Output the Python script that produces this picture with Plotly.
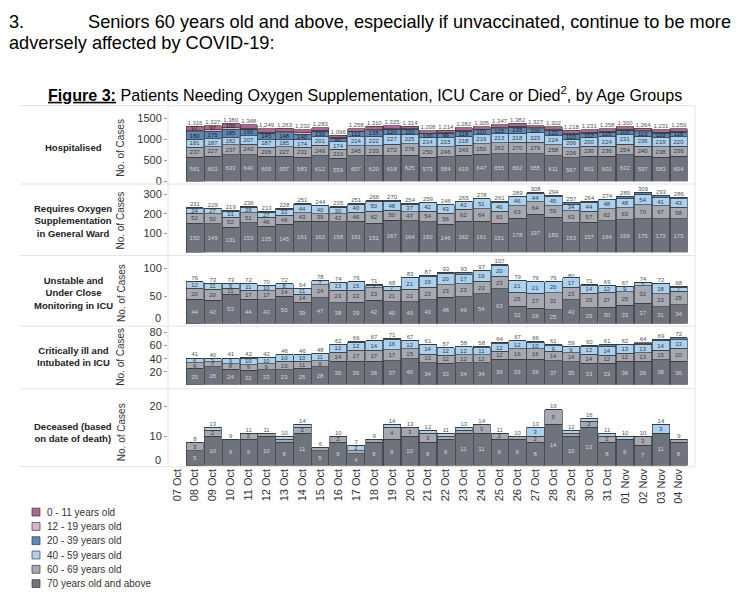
import plotly.graph_objects as go

# ---------------- data ----------------
dates = ["07 Oct", "08 Oct", "09 Oct", "10 Oct", "11 Oct", "12 Oct", "13 Oct", "14 Oct",
         "15 Oct", "16 Oct", "17 Oct", "18 Oct", "19 Oct", "20 Oct", "21 Oct", "22 Oct",
         "23 Oct", "24 Oct", "25 Oct", "26 Oct", "27 Oct", "28 Oct", "29 Oct", "30 Oct",
         "31 Oct", "01 Nov", "02 Nov", "03 Nov", "04 Nov"]

age_groups = ["70 years old and above", "60 - 69 years old", "40 - 59 years old",
              "20 - 39 years old", "12 - 19 years old", "0 - 11 years old"]

# Hospitalised
hosp_70 = [None, 581, 603, 633, 640, 605, 597, 583, 612, 559, 607, 620, 618, 625, 573, 584, 619, 647, 655, 662, 655, 611, 567, 601, 601, 632, 597, 583, 604]
hosp_60 = [None, 237, 227, 237, 243, 206, 227, 231, 249, 210, 245, 233, 272, 278, 250, 246, 243, 250, 262, 270, 279, 258, 236, 236, 236, 254, 240, 238, 236]
hosp_40 = [None, 181, 187, 182, 207, 187, 185, 174, 201, 174, 214, 222, 227, 225, 214, 215, 218, 219, 213, 218, 223, 224, 206, 200, 224, 231, 236, 219, 220]
hosp_20 = [None, 180, 175, 185, 150, 145, 148, 140, 130, 90, 112, 135, 120, 110, 100, 98, 118, 110, 125, 135, 100, 122, 120, 112, 115, 106, 110, 110, 116]
hosp_12 = [None, 40, 38, 43, 30, 28, 28, 27, 22, 15, 20, 26, 22, 18, 16, 16, 20, 18, 22, 24, 16, 20, 21, 20, 19, 18, 19, 20, 20]
hosp_0 = [None, 97, 97, 100, 78, 78, 78, 77, 69, 48, 60, 74, 66, 58, 55, 55, 64, 61, 70, 73, 54, 67, 68, 62, 63, 59, 62, 61, 63]
hosp_total = [None, 1316, 1327, 1380, 1348, 1249, 1263, 1232, 1283, 1096, 1258, 1310, 1325, 1314, 1208, 1214, 1282, 1305, 1347, 1382, 1327, 1302, 1218, 1231, 1258, 1300, 1264, 1231, 1259]

# Requires oxygen supplementation in general ward
oxy_70 = [None, 150, 149, 131, 153, 135, 145, 161, 162, 158, 161, 151, 167, 164, 160, 146, 162, 161, 151, 178, 197, 183, 153, 157, 164, 169, 175, 173, 175]
oxy_60 = [None, 52, 50, 52, 51, 46, 46, 43, 39, 42, 46, 62, 50, 47, 54, 56, 62, 64, 61, 63, 64, 59, 63, 57, 62, 63, 70, 67, 58]
oxy_40 = [None, 24, 27, 31, 29, 27, 32, 44, 40, 30, 40, 50, 48, 37, 42, 43, 41, 51, 46, 46, 44, 45, 34, 44, 48, 48, 54, 41, 43]
oxy_20 = [None, 4, 3, 4, 3, 4, 4, 3, 3, 4, 3, 3, 4, 5, 3, 1, 0, 2, 3, 2, 3, 6, 6, 5, 0, 8, 9, 11, 9]
oxy_12 = [None, 1, 0, 1, 0, 1, 1, 0, 0, 1, 1, 0, 1, 1, 0, 0, 0, 0, 0, 0, 0, 1, 1, 1, 0, 1, 1, 1, 1]
oxy_0 = [None, 0, 0, 0, 0, 0, 0, 0, 0, 0, 0, 0, 0, 0, 0, 0, 0, 0, 0, 0, 0, 0, 0, 0, 0, 0, 0, 0, 0]
oxy_total = [None, 231, 229, 219, 236, 213, 228, 251, 244, 235, 251, 266, 270, 254, 259, 246, 265, 278, 261, 289, 308, 294, 257, 264, 274, 289, 309, 293, 286]

# Unstable and under close monitoring in ICU
icu_70 = [None, 44, 42, 53, 44, 43, 50, 39, 47, 38, 39, 42, 40, 40, 43, 48, 49, 54, 63, 32, 28, 25, 43, 29, 30, 33, 37, 31, 34]
icu_60 = [None, 20, 20, 11, 17, 17, 14, 14, 24, 23, 22, 23, 21, 22, 23, 23, 23, 23, 23, 25, 27, 31, 23, 26, 27, 25, 32, 23, 25]
icu_40 = [None, 12, 11, 9, 11, 10, 8, 11, 7, 13, 15, 5, 7, 21, 19, 20, 17, 19, 20, 21, 21, 20, 17, 14, 12, 9, 5, 18, 7]
icu_20 = [None, 0, 0, 0, 0, 0, 0, 0, 0, 0, 0, 1, 0, 0, 2, 2, 3, 1, 1, 1, 0, 0, 0, 2, 0, 0, 0, 0, 2]
icu_12 = [None, 0, 0, 0, 0, 0, 0, 0, 0, 0, 0, 0, 0, 0, 0, 0, 1, 0, 0, 0, 0, 0, 0, 0, 0, 0, 0, 0, 0]
icu_0 = [None, 0, 0, 0, 0, 0, 0, 0, 0, 0, 0, 0, 0, 0, 0, 0, 0, 0, 0, 0, 0, 0, 0, 0, 0, 0, 0, 0, 0]
icu_total = [None, 76, 73, 73, 72, 70, 72, 64, 78, 74, 76, 71, 68, 83, 87, 93, 93, 97, 107, 79, 76, 76, 80, 71, 69, 67, 74, 72, 68]

# Critically ill and intubated in ICU
int_70 = [None, 25, 28, 24, 22, 23, 23, 25, 28, 36, 36, 36, 37, 40, 34, 33, 34, 34, 39, 39, 39, 37, 35, 33, 33, 36, 36, 38, 36]
int_60 = [None, 9, 7, 8, 9, 9, 13, 11, 9, 14, 17, 17, 17, 15, 13, 12, 12, 12, 12, 16, 16, 14, 14, 14, 12, 12, 13, 15, 20]
int_40 = [None, 6, 5, 9, 10, 10, 10, 10, 11, 12, 12, 14, 16, 12, 14, 12, 12, 11, 12, 12, 10, 9, 9, 12, 14, 13, 13, 14, 13]
int_20 = [None, 1, 0, 0, 1, 0, 0, 0, 0, 0, 1, 0, 1, 0, 0, 0, 0, 1, 1, 0, 1, 1, 1, 1, 2, 1, 1, 2, 3]
int_12 = [None, 0, 0, 0, 0, 0, 0, 0, 0, 0, 0, 0, 0, 0, 0, 0, 0, 0, 0, 0, 0, 0, 0, 0, 0, 0, 0, 0, 0]
int_0 = [None, 0, 0, 0, 0, 0, 0, 0, 0, 0, 0, 0, 0, 0, 0, 0, 0, 0, 0, 0, 0, 0, 0, 0, 0, 0, 1, 0, 0]
int_total = [None, 41, 40, 41, 42, 42, 46, 46, 48, 62, 66, 67, 71, 67, 61, 57, 58, 58, 64, 67, 66, 61, 59, 60, 61, 62, 64, 69, 72]

# Deceased (based on date of death)
dec_70 = [None, 5, 10, 9, 9, 10, 8, 11, 5, 8, 4, 8, 9, 10, 8, 9, 11, 11, 9, 9, 8, 14, 10, 13, 8, 9, 7, 11, 8]
dec_60 = [None, 3, 2, 0, 2, 1, 1, 2, 1, 2, 1, 1, 4, 3, 3, 1, 1, 3, 2, 1, 2, 5, 1, 2, 2, 0, 3, 0, 1]
dec_40 = [None, 0, 1, 0, 0, 0, 1, 1, 0, 0, 2, 0, 1, 0, 1, 1, 1, 0, 0, 0, 3, 0, 1, 1, 1, 1, 0, 3, 0]
dec_20 = [None, 0, 0, 0, 0, 0, 0, 0, 0, 0, 0, 0, 0, 0, 0, 0, 0, 0, 0, 0, 0, 0, 0, 0, 0, 0, 0, 0, 0]
dec_12 = [None, 0, 0, 0, 0, 0, 0, 0, 0, 0, 0, 0, 0, 0, 0, 0, 0, 0, 0, 0, 0, 0, 0, 0, 0, 0, 0, 0, 0]
dec_0 = [None, 0, 0, 0, 0, 0, 0, 0, 0, 0, 0, 0, 0, 0, 0, 0, 0, 0, 0, 0, 0, 0, 0, 0, 0, 0, 0, 0, 0]
dec_total = [None, 8, 13, 9, 11, 11, 10, 14, 6, 10, 7, 9, 14, 13, 12, 11, 13, 14, 11, 10, 13, 19, 12, 16, 11, 10, 10, 14, 9]

row_titles = ["Hospitalised",
              "Requires Oxygen<br>Supplementation<br>in General Ward",
              "Unstable and<br>Under Close<br>Monitoring in ICU",
              "Critically ill and<br>Intubated in ICU",
              "Deceased (based<br>on date of death)"]

# ---------------- styling ----------------
W, H = 747, 598
FONT = "Liberation Sans, Arial, sans-serif"
colors = ["#6f737e", "#a6a9b1", "#a9d1f1", "#5a88bb", "#dcb3cf", "#b4628f"]
text_colors = ["#d2d5da", "#3d3d3d", "#3d3d3d", "#222222", "#222222", "#222222"]
legend_order = [5, 4, 3, 2, 1, 0]

# zero_px: raised position of the "0" label (as in the reference) or None
panels = [
    dict(segs=[hosp_70, hosp_60, hosp_40, hosp_20, hosp_12, hosp_0], total=hosp_total,
         rng=[0, 1600], ticks=[0, 500, 1000, 1500], top=113.7, bot=182, thr=90, zero_px=None),
    dict(segs=[oxy_70, oxy_60, oxy_40, oxy_20, oxy_12, oxy_0], total=oxy_total,
         rng=[0, 330], ticks=[100, 200, 300], top=189, bot=254, thr=15, zero_px=None),
    dict(segs=[icu_70, icu_60, icu_40, icu_20, icu_12, icu_0], total=icu_total,
         rng=[0, 111], ticks=[50, 100], top=264, bot=326, thr=5, zero_px=320),
    dict(segs=[int_70, int_60, int_40, int_20, int_12, int_0], total=int_total,
         rng=[0, 86], ticks=[20, 40, 60, 80], top=331, bot=388, thr=5, zero_px=None),
    dict(segs=[dec_70, dec_60, dec_40, dec_20, dec_12, dec_0], total=dec_total,
         rng=[0, 22.7], ticks=[10, 20], top=402, bot=470, thr=2, zero_px=464),
]

def fy(py):
    return 1 - py / H

def fx(px):
    return px / W

def note(px, py, text, size, color="#333333", xanchor="center", **kw):
    return dict(x=fx(px), y=fy(py), xref="paper", yref="paper", text=text,
                showarrow=False, xanchor=xanchor, yanchor="middle",
                font=dict(size=size, color=color, family=FONT), **kw)

fig = go.Figure()
layout = {}
annotations = []
shapes = []

for i, p in enumerate(panels):
    n = i + 1
    xa = "x" if n == 1 else f"x{n}"
    ya = "y" if n == 1 else f"y{n}"
    for k, seg in enumerate(p["segs"]):
        txt = ["" if (v is None or v < p["thr"]) else str(v) for v in seg]
        fig.add_trace(go.Bar(
            x=dates, y=seg, xaxis=xa, yaxis=ya, name=age_groups[k],
            marker=dict(color=colors[k], line=dict(color="#3a3a3a", width=0.7)),
            text=txt, textposition="inside", insidetextanchor="middle", textangle=0,
            textfont=dict(size=6, color=text_colors[k], family=FONT),
            constraintext="none", showlegend=False, hoverinfo="x+y+name"))
    fig.add_trace(go.Scatter(
        x=dates, y=p["total"], xaxis=xa, yaxis=ya, mode="text",
        text=["" if v is None else (f"{v:,}") for v in p["total"]],
        textposition="top center", textfont=dict(size=6, color="#555555", family=FONT),
        showlegend=False, cliponaxis=False, hoverinfo="skip"))

    dom_y = [fy(p["bot"]), fy(p["top"])]
    layout["xaxis" if n == 1 else f"xaxis{n}"] = dict(
        domain=[fx(168), fx(695)], anchor=ya, type="category",
        range=[-0.5, 28.9], matches=None if n == 1 else "x",
        showticklabels=(n == 5), tickangle=-90, ticks="",
        tickfont=dict(size=11, color="#333333", family=FONT),
        showgrid=False, zeroline=False, showline=False)
    layout["yaxis" if n == 1 else f"yaxis{n}"] = dict(
        domain=dom_y, anchor=xa, range=p["rng"], tickvals=p["ticks"],
        ticks="outside", ticklen=3, tickcolor="#9a9a9a",
        tickfont=dict(size=11, color="#333333", family=FONT),
        showgrid=False, zeroline=False, showline=False)
    if p["zero_px"] is not None:
        annotations.append(note(163, p["zero_px"], "0", 11, "#333333", xanchor="right"))
    mid = (p["top"] + p["bot"]) / 2
    annotations.append(note(73, mid, f"<b>{row_titles[i]}</b>", 9.5, "#222222", align="center"))
    annotations.append(note(121, mid, "No. of Cases", 10, "#333333", textangle=-90))

# separators / borders
for py in [105, 184.5, 257, 328.5, 392, 471]:
    shapes.append(dict(type="line", xref="paper", yref="paper", x0=fx(20), x1=fx(695),
                       y0=fy(py), y1=fy(py), line=dict(color="#e3e3e3", width=1)))
for px_ in [168, 695]:
    shapes.append(dict(type="line", xref="paper", yref="paper", x0=fx(px_), x1=fx(px_),
                       y0=fy(105), y1=fy(471), line=dict(color="#e3e3e3", width=1)))

# header text
annotations.append(note(7, 20, "3.", 18.2, "#000000", xanchor="left"))
annotations.append(note(86, 20, "Seniors 60 years old and above, especially if unvaccinated, continue to be more",
                        18.2, "#000000", xanchor="left"))
annotations.append(note(7, 42, "adversely affected by COVID-19:", 18.2, "#000000", xanchor="left"))
annotations.append(note(46, 93, "<b><u>Figure 3:</u></b> Patients Needing Oxygen Supplementation, ICU Care or Died<sup>2</sup>, by Age Groups",
                        16.1, "#000000", xanchor="left"))

# legend (manual)
for j, k in enumerate(legend_order):
    cy = 517 + j * 14.5
    shapes.append(dict(type="rect", xref="paper", yref="paper",
                       x0=fx(32), x1=fx(40), y0=fy(cy + 4), y1=fy(cy - 4),
                       fillcolor=colors[k], line=dict(color="#3a3a3a", width=0.7)))
    annotations.append(note(45, cy, age_groups[k], 10, "#333333", xanchor="left"))

fig.update_layout(
    width=W, height=H, margin=dict(l=0, r=0, t=0, b=0),
    paper_bgcolor="white", plot_bgcolor="white",
    barmode="stack", bargap=0.04,
    uniformtext=dict(minsize=5.5, mode="show"),
    font=dict(family=FONT),
    annotations=annotations, shapes=shapes, showlegend=False,
    **layout)

fig.write_html("out.html", config={"displayModeBar": False},
               post_script="document.body.style.margin='0';document.body.style.overflow='hidden';")
